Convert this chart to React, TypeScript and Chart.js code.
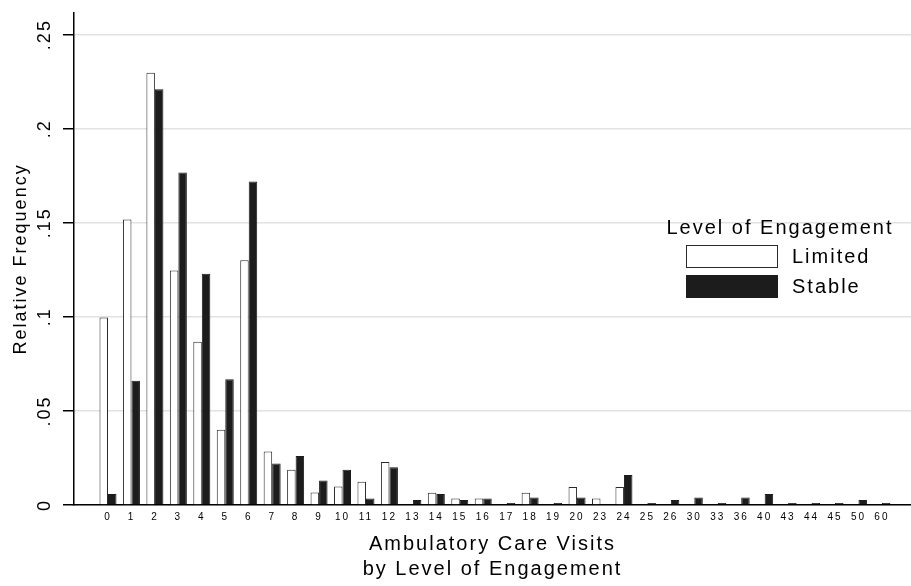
import { useEffect, useRef } from 'react';
import { Chart, registerables } from 'chart.js';

Chart.register(...registerables);

const categories = [
  '0', '1', '2', '3', '4', '5', '6', '7', '8', '9', '10', '11', '12', '13', '14', '15', '16',
  '17', '18', '19', '20', '23', '24', '25', '26', '30', '33', '36', '40', '43', '44', '45', '50', '60',
];

const limited: (number | null)[] = [
  0.0997, 0.1518, 0.2297, 0.1247, 0.0867, 0.040, 0.1301, 0.0284, 0.0188, 0.0067, 0.0098, 0.0123,
  0.0228, null, 0.0065, 0.0035, 0.0035, null, 0.0065, null, 0.0096, 0.0035, 0.0096,
  null, null, null, null, null, null, null, null, null, null, null,
];

const stable: (number | null)[] = [
  0.0058, 0.066, 0.221, 0.1767, 0.1229, 0.0669, 0.1719, 0.022, 0.026, 0.013, 0.0188, 0.0035,
  0.020, 0.0026, 0.0058, 0.0026, 0.0035, 0.001, 0.004, 0.001, 0.004, null, 0.016,
  0.001, 0.0026, 0.004, 0.001, 0.004, 0.0058, 0.001, 0.001, 0.001, 0.0026, 0.001,
];

const yTicks = [0, 0.05, 0.1, 0.15, 0.2, 0.25];
const yTickLabels = ['0', '.05', '.1', '.15', '.2', '.25'];

const seriesLabels = ['Limited', 'Stable'];
const legendTitle = 'Level of Engagement';
const xTitle = ['Ambulatory Care Visits', 'by Level of Engagement'];
const yTitle = 'Relative Frequency';

const FONT = "'Liberation Sans', Arial, Helvetica, sans-serif";
const SPACING = '2px';

export default function App() {
  const ref = useRef<HTMLCanvasElement>(null);

  useEffect(() => {
    const canvas = ref.current!;

    const spacingPlugin = {
      id: 'spacing',
      beforeUpdate(chart: any) {
        chart.ctx.letterSpacing = SPACING;
      },
      beforeDraw(chart: any) {
        chart.ctx.letterSpacing = SPACING;
      },
    };

    const legendPlugin = {
      id: 'stataLegend',
      afterDraw(chart: any) {
        const ctx = chart.ctx as CanvasRenderingContext2D;
        const a = chart.chartArea;
        const ds = chart.data.datasets;
        ctx.save();
        (ctx as any).letterSpacing = SPACING;
        ctx.font = `20px ${FONT}`;
        ctx.fillStyle = '#000';
        ctx.textAlign = 'center';
        ctx.textBaseline = 'middle';
        ctx.fillText(legendTitle, a.right - 131, 228);
        const boxX = a.right - 225;
        ds.forEach((d: any, i: number) => {
          const y = 245 + i * 30;
          ctx.fillStyle = d.backgroundColor;
          ctx.fillRect(boxX, y, 92, 23);
          ctx.strokeStyle = d.borderColor;
          ctx.lineWidth = 1;
          ctx.strokeRect(boxX + 0.5, y + 0.5, 91, 22);
          ctx.fillStyle = '#000';
          ctx.textAlign = 'left';
          ctx.fillText(d.label, boxX + 106, y + 12);
        });
        ctx.restore();
      },
    };

    const chart = new Chart(canvas, {
      type: 'bar',
      data: {
        datasets: [
          {
            label: seriesLabels[0],
            data: categories.map((_, i) => ({ x: i, y: limited[i] })) as any,
            backgroundColor: '#ffffff',
            borderColor: '#2a2a2a',
            borderWidth: 1,
          },
          {
            label: seriesLabels[1],
            data: categories.map((_, i) => ({ x: i, y: stable[i] })) as any,
            backgroundColor: '#1c1c1c',
            borderColor: '#1c1c1c',
            borderWidth: 1,
          },
        ],
      },
      options: {
        responsive: false,
        animation: false,
        devicePixelRatio: 1,
        layout: { padding: { top: 7, left: 0, right: 0, bottom: 0 } },
        plugins: { legend: { display: false }, tooltip: { enabled: false } },
        datasets: { bar: { categoryPercentage: 0.725, barPercentage: 1 } },
        scales: {
          x: {
            type: 'linear',
            min: -1.45,
            max: 34.24,
            offset: false,
            grid: { display: false, drawTicks: false, offset: false },
            border: { display: true, color: '#000', width: 1.5 },
            afterBuildTicks: (scale: any) => {
              scale.ticks = categories.map((_, i) => ({ value: i }));
            },
            afterFit: (scale: any) => {
              scale.height = 81;
            },
            ticks: {
              autoSkip: false,
              minRotation: 0,
              maxRotation: 0,
              padding: 6,
              color: '#000',
              font: { family: FONT, size: 10 },
              callback: (v: any) => categories[v] ?? '',
            },
            title: {
              display: true,
              text: xTitle,
              color: '#000',
              font: { family: FONT, size: 20, lineHeight: 1.25 },
              padding: { top: 0, bottom: 4 },
            },
          },
          y: {
            min: 0,
            max: 0.2616,
            afterBuildTicks: (scale: any) => {
              scale.ticks = yTicks.map((v) => ({ value: v }));
            },
            afterFit: (scale: any) => {
              scale.width = 74;
            },
            grid: { color: '#e2e2e2', lineWidth: 1.5, tickColor: '#000', tickLength: 11, tickWidth: 1.5 },
            border: { color: '#000', width: 1.5 },
            ticks: {
              minRotation: 90,
              maxRotation: 90,
              crossAlign: 'center',
              padding: 2,
              color: '#000',
              font: { family: FONT, size: 18 },
              callback: (_v: any, i: number) => yTickLabels[i],
            },
            title: {
              display: true,
              text: yTitle,
              color: '#000',
              font: { family: FONT, size: 18 },
              padding: { top: 10, bottom: 0 },
            },
          },
        },
      } as any,
      plugins: [spacingPlugin, legendPlugin],
    });

    return () => chart.destroy();
  }, []);

  return (
    <div style={{ position: 'fixed', left: 0, top: 0, width: 911, height: 586, background: '#fff' }}>
      <canvas ref={ref} width={911} height={586} style={{ display: 'block', width: 911, height: 586 }} />
    </div>
  );
}
